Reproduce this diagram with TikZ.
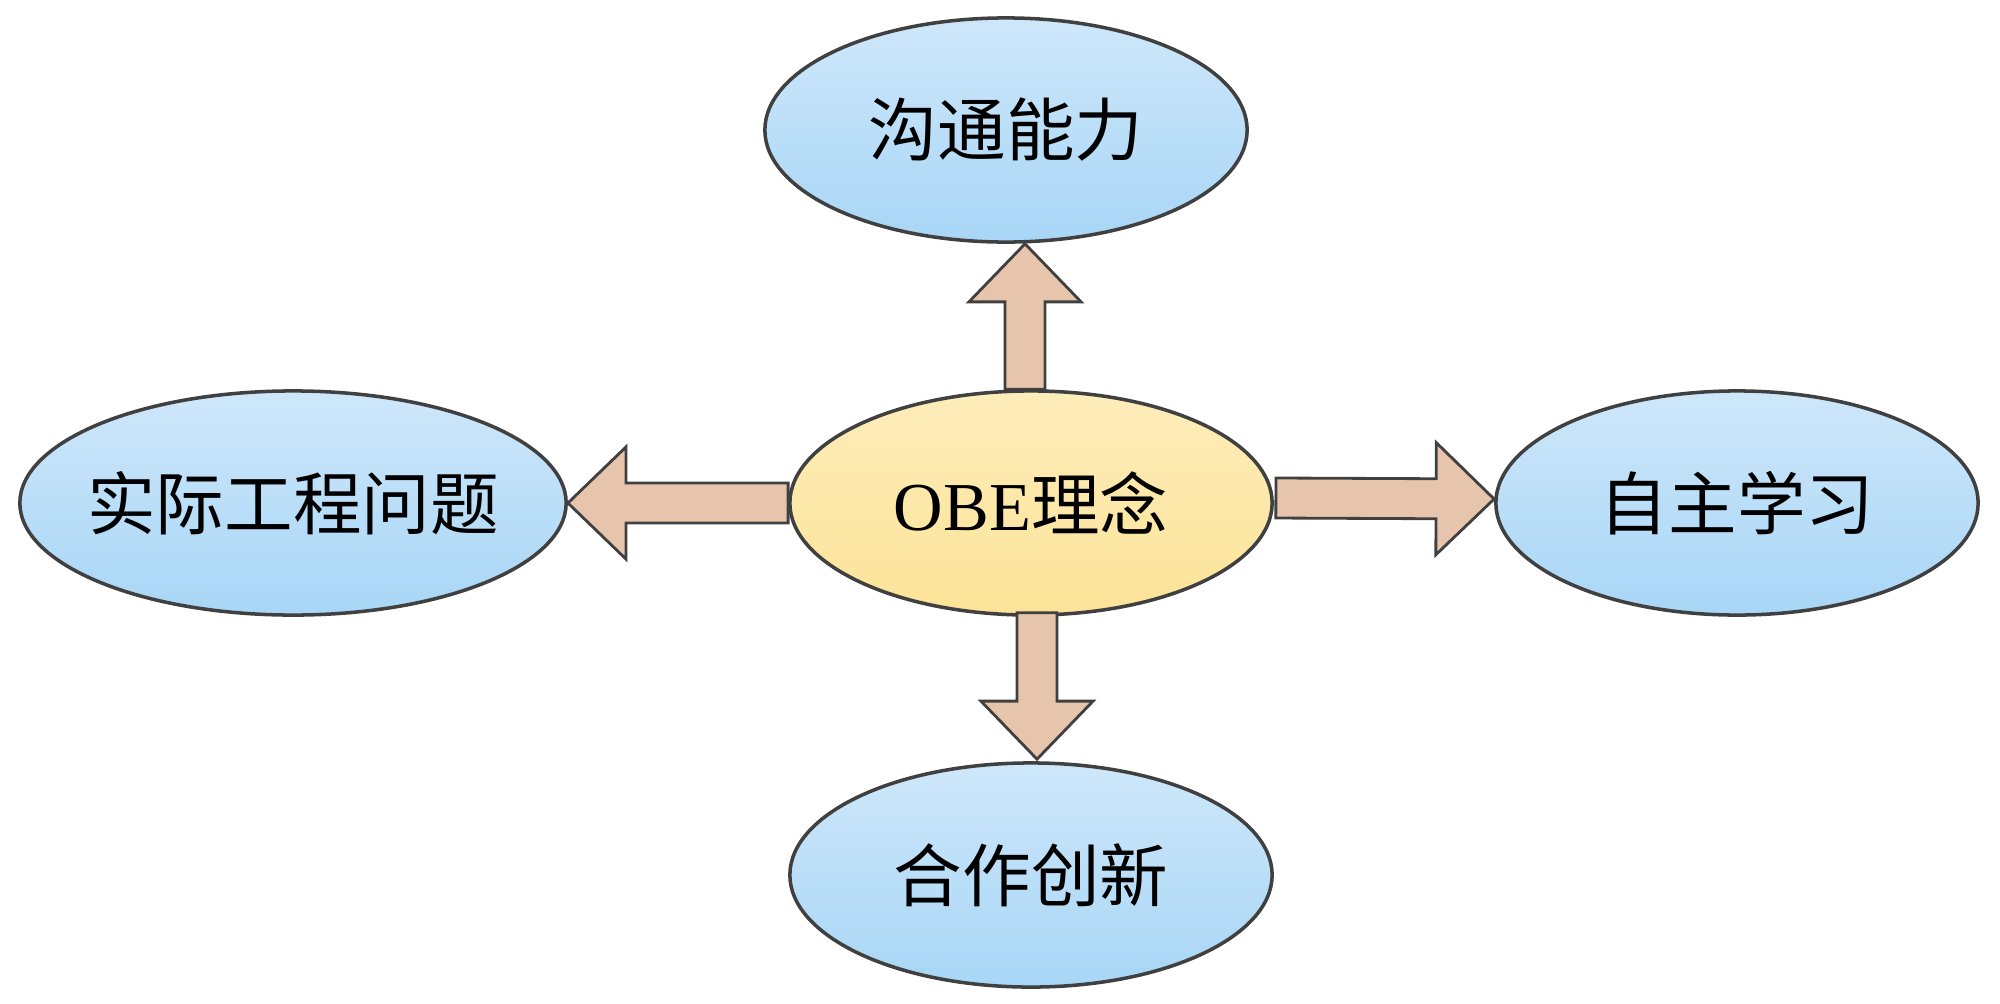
\documentclass[tikz,border=0pt]{standalone}
\usepackage{fontspec}
\setmainfont{Liberation Serif}
\newfontfamily\cjk{Noto Sans CJK SC}
\usepackage{tikz}
\usetikzlibrary{shapes,calc}

\definecolor{bluetop}{RGB}{206,231,250}
\definecolor{bluebot}{RGB}{168,214,246}
\definecolor{yeltop}{RGB}{253,237,186}
\definecolor{yelbot}{RGB}{252,227,152}
\definecolor{arrowtan}{RGB}{231,197,172}
\definecolor{edgegray}{RGB}{64,64,64}

\tikzset{
  goal/.style={ellipse,draw=edgegray,line width=1pt,top color=bluetop,bottom color=bluebot,
    minimum width=4.82cm,minimum height=2.24cm,inner sep=0pt,font=\fontsize{19.5}{24}\selectfont\cjk},
  core/.style={goal,top color=yeltop,bottom color=yelbot},
  blk/.style={draw=edgegray,line width=0.8pt,fill=arrowtan,line join=miter}
}

% block arrow: #1 start, #2 tip
\newcommand{\blockarrow}[2]{
  \coordinate (ah) at ($(#2)!0.58cm!(#1)$);
  \draw[blk] ($(#1)!0.2cm!90:(#2)$) -- ($(ah)!0.2cm!90:(#2)$) -- ($(ah)!0.56cm!90:(#2)$)
    -- (#2) -- ($(ah)!0.56cm!-90:(#2)$) -- ($(ah)!0.2cm!-90:(#2)$) -- ($(#1)!0.2cm!-90:(#2)$) -- cycle;
}

\begin{document}
\begin{tikzpicture}[x=0.01cm,y=-0.01cm]
  \useasboundingbox (0,0) rectangle (2000,1003);

  \node[core] (obe) at (1031,503) {{\rmfamily OBE}理念};
  \node[goal] (comm) at (1006,130) {沟通能力};
  \node[goal,minimum width=5.46cm] (prob) at (293,503) {\makebox[0pt]{实际工程问题}};
  \node[goal] (self) at (1737,503) {自主学习};
  \node[goal] (coop) at (1031,875) {合作创新};

  \blockarrow{$(obe.north)+(-6,0)$}{$(comm.south)+(19,0)$}
  \blockarrow{$(obe.south)+(6,-4)$}{$(coop.north)+(6,-2)$}
  \blockarrow{obe.west}{prob.east}
  \blockarrow{$(obe.east)+(2,-5)$}{$(self.west)+(0,-4)$}
\end{tikzpicture}
\end{document}
